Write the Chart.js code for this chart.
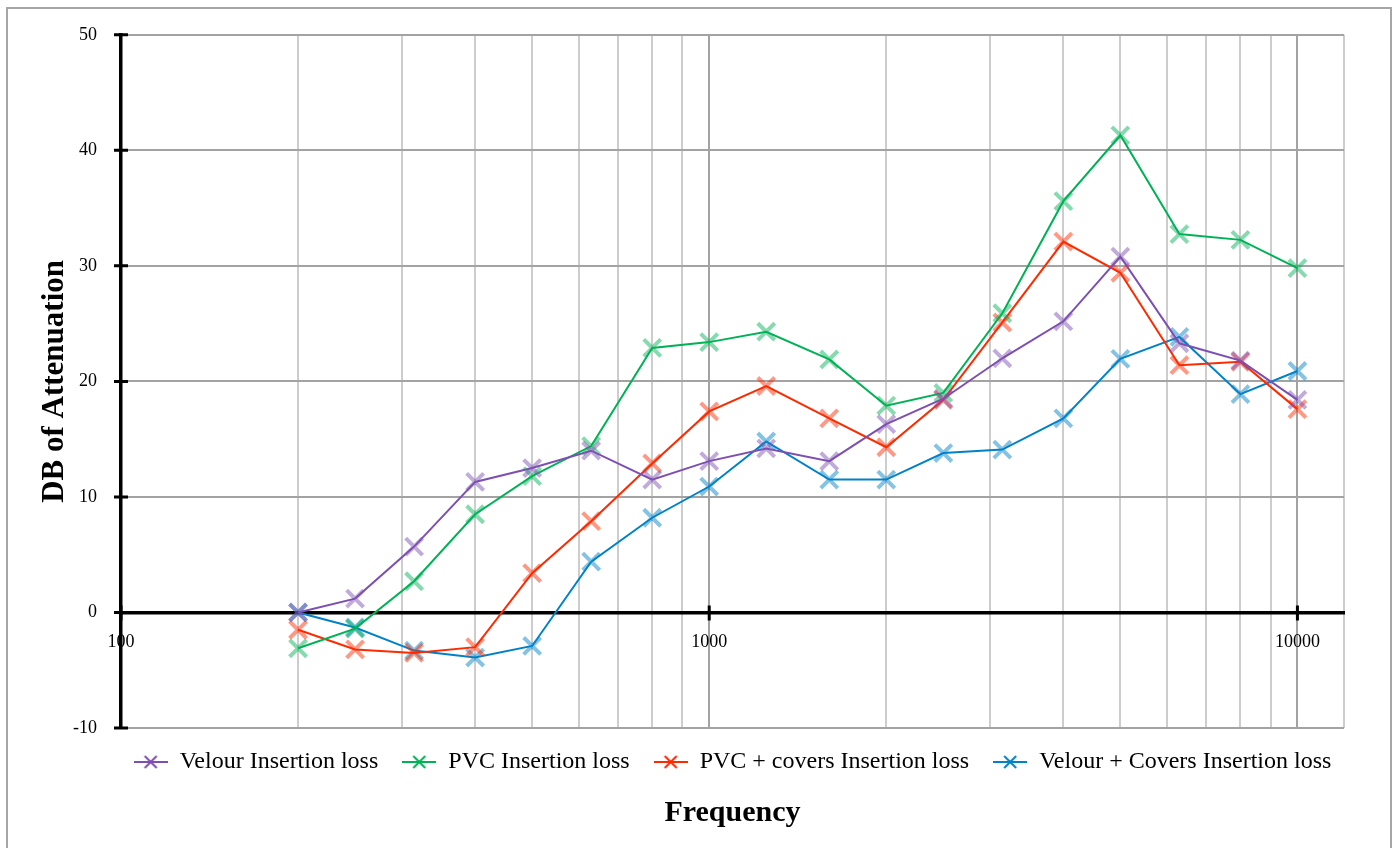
<!DOCTYPE html>
<html>
<head>
<meta charset="utf-8">
<script src="https://cdn.jsdelivr.net/npm/chart.js@4.4.1/dist/chart.umd.min.js"></script>
<style>
  html, body { margin: 0; padding: 0; background: #ffffff; }
  #wrap { position: relative; width: 1397px; height: 848px; }
</style>
</head>
<body>
<div id="wrap"><canvas id="c" width="1397" height="848"></canvas></div>
<script>
// ---------- data ----------
const frequencies = [200, 250, 315, 400, 500, 630, 800, 1000, 1250, 1600, 2000, 2500, 3150, 4000, 5000, 6300, 8000, 10000];
const velourLoss       = [0.0, 1.2, 5.7, 11.3, 12.5, 14.0, 11.5, 13.1, 14.2, 13.1, 16.3, 18.5, 22.0, 25.2, 30.8, 23.3, 21.8, 18.4];
const pvcLoss          = [-3.1, -1.4, 2.7, 8.5, 11.8, 14.4, 22.9, 23.4, 24.3, 21.9, 17.9, 19.0, 25.9, 35.6, 41.3, 32.75, 32.25, 29.8];
const pvcCoversLoss    = [-1.5, -3.2, -3.5, -3.0, 3.4, 7.9, 12.9, 17.4, 19.6, 16.8, 14.3, 18.4, 25.1, 32.1, 29.4, 21.4, 21.7, 17.6];
const velourCoversLoss = [0.0, -1.3, -3.3, -3.9, -2.9, 4.4, 8.2, 10.9, 14.8, 11.5, 11.5, 13.8, 14.1, 16.8, 21.95, 23.85, 18.9, 20.9];
const seriesNames  = ['Velour Insertion loss', 'PVC Insertion loss', 'PVC + covers Insertion loss', 'Velour + Covers Insertion loss'];
const seriesColors = ['#7E4FB3', '#00B256', '#FF2A00', '#0082C8'];
const xTickLabels  = [100, 1000, 10000];
const xMajorGrid   = [1000, 10000];
const xRange       = [100, 12000];
const yTickValues  = [-10, 0, 10, 20, 30, 40, 50];

const FONT = "'Liberation Serif', 'Times New Roman', serif";

function rgba(hex, a) {
  const n = parseInt(hex.slice(1), 16);
  return 'rgba(' + ((n >> 16) & 255) + ',' + ((n >> 8) & 255) + ',' + (n & 255) + ',' + a + ')';
}

// standard log grid: 1..9 x 10^n inside the range, plus the range end
function logGrid(min, max) {
  const out = [];
  for (let e = Math.floor(Math.log10(min)); e <= Math.ceil(Math.log10(max)); e++) {
    for (let s = 1; s <= 9; s++) {
      const v = s * Math.pow(10, e);
      if (v >= min && v <= max) out.push(v);
    }
  }
  if (out[out.length - 1] !== max) out.push(max);
  return out;
}

function legendIcon(color) {
  const cv = document.createElement('canvas');
  cv.width = 34; cv.height = 16;
  const g = cv.getContext('2d');
  g.strokeStyle = color; g.lineWidth = 2;
  g.beginPath(); g.moveTo(0, 8); g.lineTo(34, 8); g.stroke();
  g.beginPath(); g.moveTo(11, 2); g.lineTo(23, 14); g.moveTo(23, 2); g.lineTo(11, 14); g.stroke();
  return cv;
}

const allSeries = [velourLoss, pvcLoss, pvcCoversLoss, velourCoversLoss];
const datasets = allSeries.map((vals, i) => ({
  label: seriesNames[i],
  data: frequencies.map((f, k) => ({ x: f, y: vals[k] })),
  borderColor: seriesColors[i],
  backgroundColor: seriesColors[i],
  borderWidth: 2,
  tension: 0,
  pointStyle: 'crossRot',
  pointRadius: 12,
  pointHoverRadius: 12,
  pointBorderWidth: 4,
  pointBorderColor: rgba(seriesColors[i], 0.48),
  pointBackgroundColor: rgba(seriesColors[i], 0.48)
}));
const legendIcons = seriesColors.map(legendIcon);

// frame + crossing tick marks + legend centring over the plot
const decorations = {
  id: 'decorations',
  beforeDraw(chart) {
    const ctx = chart.ctx;
    ctx.save();
    ctx.fillStyle = '#ffffff';
    ctx.fillRect(0, 0, chart.width, chart.height);
    ctx.strokeStyle = '#a6a6a6';
    ctx.lineWidth = 2;
    ctx.strokeRect(7, 8, 1384, 900);
    ctx.restore();
  },
  beforeDatasetsDraw(chart) {
    const ctx = chart.ctx;
    const xs = chart.scales.x, ys = chart.scales.y;
    const left = chart.chartArea.left;
    const y0 = ys.getPixelForValue(0);
    ctx.save();
    ctx.strokeStyle = '#000';
    ctx.lineWidth = 3;
    ctx.beginPath();
    yTickValues.forEach(v => {
      const py = ys.getPixelForValue(v);
      ctx.moveTo(left - 7, py); ctx.lineTo(left + 7, py);
    });
    xTickLabels.forEach(v => {
      const px = xs.getPixelForValue(v);
      ctx.moveTo(px, y0 - 7); ctx.lineTo(px, y0 + 8);
    });
    ctx.stroke();
    ctx.restore();
  },
  afterLayout(chart) {
    const lg = chart.legend, ca = chart.chartArea;
    if (!lg) return;
    const dx = (ca.left + ca.right) / 2 - (lg.left + lg.right) / 2;
    lg.left += dx; lg.right += dx;
    lg.top -= 2; lg.bottom -= 2;
  }
};

new Chart(document.getElementById('c'), {
  type: 'line',
  data: { datasets },
  plugins: [decorations],
  options: {
    responsive: false,
    devicePixelRatio: 1,
    animation: false,
    layout: { padding: { left: 0, right: 53, top: 32, bottom: 17 } },
    plugins: {
      tooltip: { enabled: false },
      legend: {
        position: 'bottom',
        labels: {
          usePointStyle: true,
          pointStyleWidth: 34,
          padding: 24,
          color: '#000',
          font: { family: FONT, size: 24 },
          generateLabels: (chart) => chart.data.datasets.map((ds, i) => ({
            text: ds.label,
            pointStyle: legendIcons[i],
            fillStyle: seriesColors[i],
            strokeStyle: seriesColors[i],
            lineWidth: 0,
            hidden: false,
            datasetIndex: i,
            fontColor: '#000'
          }))
        }
      },
      title: {
        display: true,
        position: 'bottom',
        fullSize: false,
        text: 'Frequency',
        color: '#000',
        font: { family: FONT, size: 30, weight: 'bold' },
        padding: { top: 9, bottom: 0 }
      }
    },
    scales: {
      x: {
        type: 'logarithmic',
        position: { y: 0 },
        min: xRange[0],
        max: xRange[1],
        afterBuildTicks: (s) => { s.ticks = logGrid(xRange[0], xRange[1]).map(v => ({ value: v })); },
        grid: {
          drawTicks: false,
          lineWidth: 2,
          color: (c) => (c.tick && xMajorGrid.includes(c.tick.value)) ? '#a3a3a3' : '#cdcdcd'
        },
        border: { display: true, color: '#000', width: 3.5 },
        ticks: {
          autoSkip: false,
          maxRotation: 0,
          minRotation: 0,
          padding: 19,
          color: '#000',
          font: { family: FONT, size: 18 },
          callback: (v) => xTickLabels.includes(v) ? String(v) : ''
        }
      },
      y: {
        type: 'linear',
        position: 'left',
        min: -10,
        max: 50,
        afterFit: (s) => { s.width = 121; },
        grid: {
          drawTicks: false,
          lineWidth: 2,
          color: (c) => (c.tick && c.tick.value === 0) ? '#000' : '#a3a3a3'
        },
        border: { display: true, color: '#000', width: 3.5 },
        ticks: {
          stepSize: 10,
          padding: 24,
          color: '#000',
          font: { family: FONT, size: 18 }
        },
        title: {
          display: true,
          text: 'DB of Attenuation',
          color: '#000',
          font: { family: FONT, size: 31, weight: 'bold' },
          padding: { top: 36, bottom: 0 }
        }
      }
    }
  }
});
</script>
</body>
</html>
